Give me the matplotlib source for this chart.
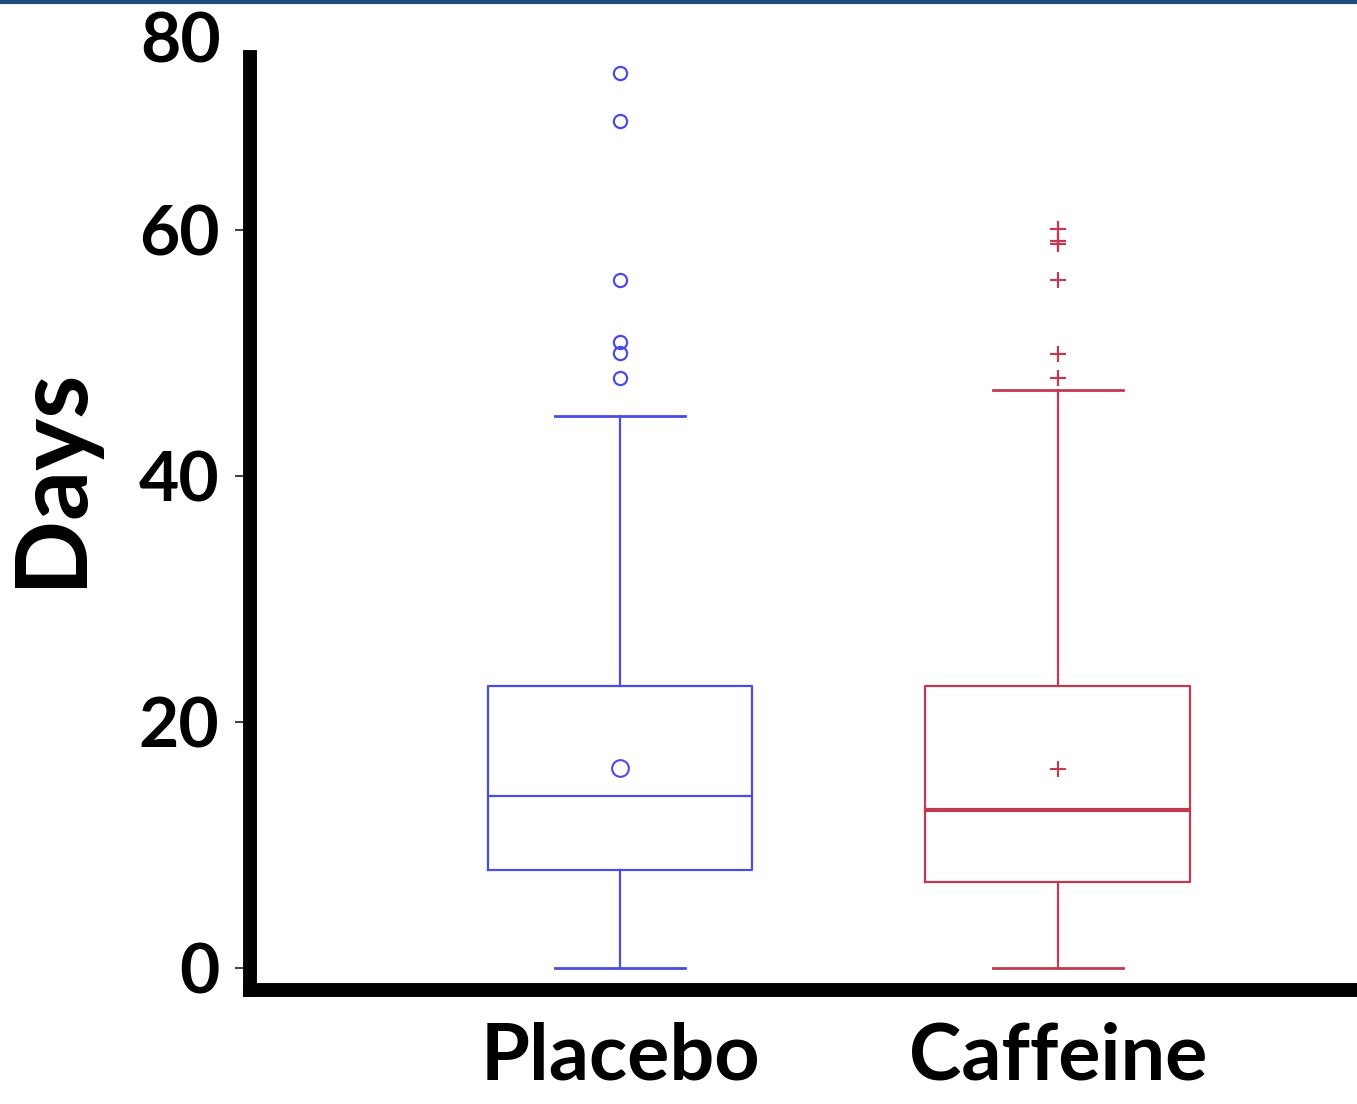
import matplotlib
matplotlib.use("Agg")
import matplotlib.pyplot as plt
from matplotlib.lines import Line2D

# ---------------------------
# data
# ---------------------------
groups = ["Placebo", "Caffeine"]
whisker_low = [0.0, 0.0]
box_low = [8.0, 7.0]
medians = [14.0, 12.85]
box_high = [22.9, 22.9]
whisker_high = [44.9, 47.0]
means = [16.3, 16.2]
placebo_outliers = [72.8, 68.9, 55.9, 50.9, 50.0, 48.0]
caffeine_outliers = [60.1, 59.1, 58.9, 55.9, 49.9, 48.0]
ytick_values = [0, 20, 40, 60]
top_label = "80"
ylabel = "Days"

colors = ["#4b4be6", "#c23a52"]
markers = ["o", "+"]
outliers = [placebo_outliers, caffeine_outliers]

plt.rcParams["font.family"] = ["Lato", "DejaVu Sans"]
plt.rcParams["font.weight"] = "bold"

fig = plt.figure(figsize=(13.57, 11.04), dpi=100)
ax = fig.add_axes([250 / 1357, 1 - 990 / 1104, 1107 / 1357, 933 / 1104])

for i, name in enumerate(groups):
    stats = [{
        "label": name,
        "whislo": whisker_low[i],
        "q1": box_low[i],
        "med": medians[i],
        "q3": box_high[i],
        "whishi": whisker_high[i],
        "mean": means[i],
        "fliers": outliers[i],
    }]
    c = colors[i]
    ax.bxp(
        stats,
        positions=[i + 1],
        widths=0.605,
        capwidths=0.297,
        showmeans=True,
        boxprops=dict(color=c, linewidth=1.6),
        whiskerprops=dict(color=c, linewidth=1.6),
        capprops=dict(color=c, linewidth=2.0),
        medianprops=dict(color=c, linewidth=1.6 if i == 0 else 3.0),
        meanprops=dict(marker=markers[i], markeredgecolor=c,
                       markerfacecolor="none",
                       markersize=12 if i == 0 else 11,
                       markeredgewidth=1.5),
        flierprops=dict(marker=markers[i], markeredgecolor=c,
                        markerfacecolor="none",
                        markersize=9.5 if i == 0 else 11,
                        markeredgewidth=1.6),
    )

ax.set_xlim(0.155, 2.683)
ax.set_ylim(-1.79, 74.07)

ax.set_yticks(ytick_values)
ax.set_yticklabels([str(v) for v in ytick_values], fontsize=50,
                   fontweight="bold")
ax.tick_params(axis="y", length=11, width=1.5, color="#444444", pad=11)
ax.tick_params(axis="x", length=0, pad=23)
ax.set_xticks([1, 2])
ax.set_xticklabels(groups, fontsize=57, fontweight="bold")

# the "80" label sits above the axis top in the original
ax.text(-0.026, 75.2, top_label, transform=ax.get_yaxis_transform(),
        ha="right", va="center", fontsize=50, fontweight="bold",
        clip_on=False)

ax.set_ylabel(ylabel, fontsize=71, fontweight="bold")
ax.yaxis.set_label_coords(-0.138, 0.55)

for side in ["top", "right"]:
    ax.spines[side].set_visible(False)
for side in ["left", "bottom"]:
    ax.spines[side].set_linewidth(10)
    ax.spines[side].set_capstyle("projecting")

# thin dark-blue rule along the top edge
fig.add_artist(Line2D([0, 1], [0.9985, 0.9985], color="#1b4f7a",
                      linewidth=3, transform=fig.transFigure))

fig.savefig("out.png", dpi=100)
